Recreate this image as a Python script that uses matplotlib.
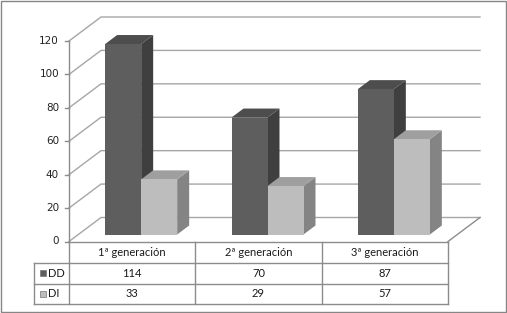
import matplotlib.pyplot as plt
from matplotlib.patches import Polygon, Rectangle

categories = ["1ª generación", "2ª generación", "3ª generación"]
series = ["DD", "DI"]
dd_values = [114, 70, 87]
di_values = [33, 29, 57]
y_ticks = [0, 20, 40, 60, 80, 100, 120]

# pixel layout of the fake 3d plot
W, H = 507, 313
x_left, x_right = 69, 448
y_floor, y_top = 241.5, 41
depth = (32, -24)
bar_shift = (9, -7)
bar_depth = (12, -9)
bar_w = 36

front_cols = {"DD": "#5e5e5e", "DI": "#bdbdbd"}
side_cols = {"DD": "#3f3f3f", "DI": "#848484"}
top_cols = {"DD": "#4d4d4d", "DI": "#9f9f9f"}
grid_col = "#a6a6a6"
line_col = "#8c8c8c"


def ypix(v):
    return y_floor - (v - y_ticks[0]) * (y_floor - y_top) / (y_ticks[-1] - y_ticks[0])


fig = plt.figure(figsize=(W / 100, H / 100), dpi=100)
ax = fig.add_axes([0, 0, 1, 1])
ax.set_xlim(0, W)
ax.set_ylim(H, 0)
ax.axis("off")

# outer border
ax.add_patch(Rectangle((0.5, 0.5), W - 1.5, H - 1.5, fill=False, ec="#868686", lw=1))

# walls / gridlines
dx, dy = depth
for t in y_ticks:
    y = ypix(t)
    ax.plot([x_left, x_left + dx, x_right + dx], [y, y + dy, y + dy], color=grid_col, lw=1, zorder=1)
    ax.plot([x_left - 4, x_left], [y, y], color=line_col, lw=1, zorder=1)
    ax.text(x_left - 10, y, str(t), ha="right", va="center", fontsize=7.5,
            family="DejaVu Sans", color="#222222")
ax.plot([x_left, x_left], [ypix(y_ticks[-1]), y_floor], color=line_col, lw=1, zorder=1)
ax.plot([x_right, x_right + dx], [y_floor, y_floor + dy], color=line_col, lw=1, zorder=1)

# bars
cell_w = (x_right - x_left) / len(categories)
bx, by = bar_shift
sx, sy = bar_depth
for i, cat in enumerate(categories):
    center = x_left + cell_w * (i + 0.5) + bx
    base = y_floor + by
    for j, (name, vals) in enumerate(zip(series, [dd_values, di_values])):
        x0 = center - bar_w + j * bar_w
        x1 = x0 + bar_w
        top = ypix(vals[i]) + by
        front = [(x0, base), (x1, base), (x1, top), (x0, top)]
        side = [(x1, base), (x1 + sx, base + sy), (x1 + sx, top + sy), (x1, top)]
        lid = [(x0, top), (x1, top), (x1 + sx, top + sy), (x0 + sx, top + sy)]
        ax.add_patch(Polygon(side, closed=True, fc=side_cols[name], ec="none", zorder=3 + j))
        ax.add_patch(Polygon(lid, closed=True, fc=top_cols[name], ec="none", zorder=3 + j))
        ax.add_patch(Polygon(front, closed=True, fc=front_cols[name], ec="none", zorder=3 + j))

# data table
row_y = [y_floor, 263, 283.5, 304]
leg_x = 34
col_x = [x_left + cell_w * k for k in range(len(categories) + 1)]
ax.plot([x_left, x_right], [row_y[0], row_y[0]], color=line_col, lw=1, zorder=2)
for y in row_y[1:]:
    ax.plot([leg_x, x_right], [y, y], color=line_col, lw=1, zorder=2)
ax.plot([leg_x, leg_x], [row_y[1], row_y[-1]], color=line_col, lw=1, zorder=2)
for x in col_x:
    ax.plot([x, x], [row_y[0], row_y[-1]], color=line_col, lw=1, zorder=2)

tfont = dict(fontsize=8, family="Lato", color="#1a1a1a", ha="center", va="center")
for i, cat in enumerate(categories):
    cx = (col_x[i] + col_x[i + 1]) / 2
    ax.text(cx, (row_y[0] + row_y[1]) / 2, cat, **tfont)
    ax.text(cx, (row_y[1] + row_y[2]) / 2, str(dd_values[i]), **tfont)
    ax.text(cx, (row_y[2] + row_y[3]) / 2, str(di_values[i]), **tfont)

for r, name in enumerate(series):
    yc = (row_y[r + 1] + row_y[r + 2]) / 2
    ax.add_patch(Rectangle((39.5, yc - 3), 6, 6, fc=front_cols[name], ec="#777777", lw=0.5, zorder=3))
    ax.text(48, yc, name, fontsize=8, family="Lato", color="#1a1a1a", ha="left", va="center")

fig.savefig("out.png", dpi=100)
